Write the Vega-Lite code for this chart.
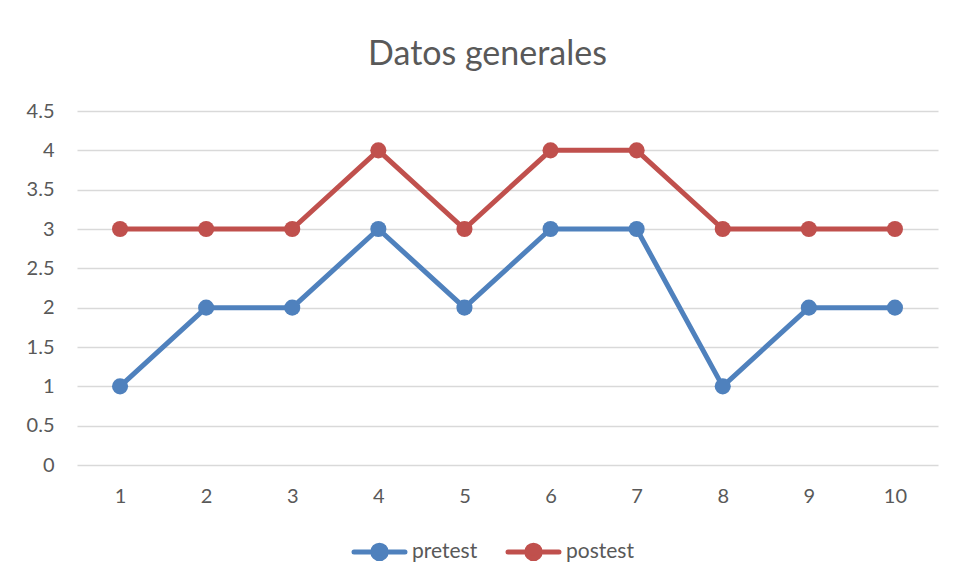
{
  "$schema": "https://vega.github.io/schema/vega-lite/v6.json",
  "autosize": "none",
  "width": 861,
  "height": 354,
  "padding": {"left": 77, "top": 111, "right": 18, "bottom": 117},
  "background": "white",
  "title": {
    "text": "Datos generales",
    "font": "Lato",
    "fontSize": 34,
    "fontWeight": "normal",
    "color": "#595959",
    "anchor": "middle",
    "baseline": "alphabetic",
    "offset": 2,
    "dx": -20
  },
  "data": {
    "values": [
      {"x": 1, "serie": "pretest", "valor": 1},
      {"x": 2, "serie": "pretest", "valor": 2},
      {"x": 3, "serie": "pretest", "valor": 2},
      {"x": 4, "serie": "pretest", "valor": 3},
      {"x": 5, "serie": "pretest", "valor": 2},
      {"x": 6, "serie": "pretest", "valor": 3},
      {"x": 7, "serie": "pretest", "valor": 3},
      {"x": 8, "serie": "pretest", "valor": 1},
      {"x": 9, "serie": "pretest", "valor": 2},
      {"x": 10, "serie": "pretest", "valor": 2},
      {"x": 1, "serie": "postest", "valor": 3},
      {"x": 2, "serie": "postest", "valor": 3},
      {"x": 3, "serie": "postest", "valor": 3},
      {"x": 4, "serie": "postest", "valor": 4},
      {"x": 5, "serie": "postest", "valor": 3},
      {"x": 6, "serie": "postest", "valor": 4},
      {"x": 7, "serie": "postest", "valor": 4},
      {"x": 8, "serie": "postest", "valor": 3},
      {"x": 9, "serie": "postest", "valor": 3},
      {"x": 10, "serie": "postest", "valor": 3}
    ]
  },
  "encoding": {
    "x": {
      "field": "x",
      "type": "ordinal",
      "scale": {"type": "point", "padding": 0.5},
      "axis": {
        "title": null,
        "labelAngle": 0,
        "labelFont": "Lato",
        "labelFontSize": 20,
        "labelColor": "#595959",
        "labelPadding": 21,
        "ticks": false,
        "domain": false,
        "grid": false
      }
    },
    "y": {
      "field": "valor",
      "type": "quantitative",
      "scale": {"domain": [0, 4.5], "nice": false},
      "axis": {
        "title": null,
        "values": [0, 0.5, 1, 1.5, 2, 2.5, 3, 3.5, 4, 4.5],
        "format": "~g",
        "labelFont": "Lato",
        "labelFontSize": 20,
        "labelColor": "#595959",
        "labelPadding": 23,
        "ticks": false,
        "domain": false,
        "grid": true,
        "gridColor": "#D9D9D9",
        "gridWidth": 1.3
      }
    },
    "color": {
      "field": "serie",
      "type": "nominal",
      "scale": {"domain": ["pretest", "postest"], "range": ["#4F81BD", "#C0504D"]},
      "legend": {
        "title": null,
        "orient": "none",
        "direction": "horizontal",
        "legendX": 272,
        "legendY": 410,
        "labelFont": "Lato",
        "labelFontSize": 21,
        "labelColor": "#595959",
        "labelOffset": 2,
        "columnPadding": 20,
        "symbolType": "M-0.91,0H0.91M0.24,0A0.24,0.24 0 1,1 -0.24,0A0.24,0.24 0 1,1 0.24,0Z",
        "symbolSize": 3136,
        "symbolStrokeWidth": 5,
        "encode": {
          "symbols": {
            "update": {
              "fill": {"scale": "color", "field": "value"},
              "stroke": {"scale": "color", "field": "value"},
              "strokeCap": {"value": "round"}
            }
          }
        }
      }
    }
  },
  "layer": [
    {
      "mark": {"type": "line", "strokeWidth": 5, "strokeCap": "round", "strokeJoin": "round"}
    },
    {
      "mark": {"type": "point", "filled": true, "size": 260, "opacity": 1, "shape": "circle"}
    }
  ],
  "config": {
    "view": {"stroke": null}
  }
}
